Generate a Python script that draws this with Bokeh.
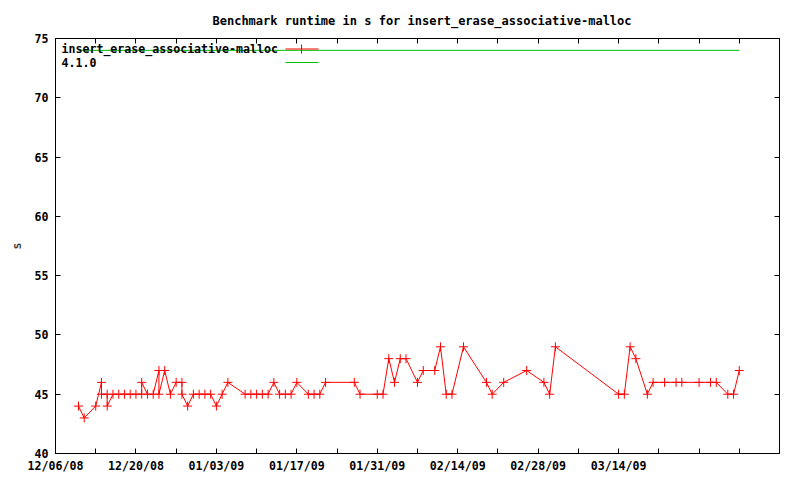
import pandas as pd
from bokeh.plotting import figure
from bokeh.models import (FixedTicker, DatetimeTickFormatter, LinearAxis, DatetimeAxis,
                          Range1d, Label, BoxAnnotation, ColumnDataSource)
from bokeh.embed import file_html
from bokeh.resources import INLINE

# ---- data ----
start_date = "2008-12-06"
end_date = "2009-04-11"
# days after 12/06/08 of each benchmark run, and its runtime (s)
run_day = [4, 5, 7, 8, 8, 9, 9, 10, 11, 12, 13, 14, 15, 15, 16, 17, 18, 18, 19, 20,
           21, 22, 22, 23, 24, 25, 26, 27, 28, 29, 30, 33, 34, 35, 36, 37, 38, 39, 40, 41,
           42, 44, 45, 46, 47, 52, 53, 56, 57, 58, 59, 60, 61, 63, 64, 66, 67, 68, 69, 71,
           75, 76, 78, 82, 85, 86, 87, 98, 99, 100, 101, 103, 104, 106, 108, 109, 112, 114, 115, 117,
           118, 119]
runtime_s = [44, 43, 44, 46, 45, 45, 44, 45, 45, 45, 45, 45, 45, 46, 45, 45, 47, 45, 47, 45,
             46, 46, 45, 44, 45, 45, 45, 45, 44, 45, 46, 45, 45, 45, 45, 45, 46, 45, 45, 45,
             46, 45, 45, 45, 46, 46, 45, 45, 45, 48, 46, 48, 48, 46, 47, 47, 49, 45, 45, 49,
             46, 45, 46, 47, 46, 45, 49, 45, 45, 49, 48, 45, 46, 46, 46, 46, 46, 46, 46, 45,
             45, 47]
# reference series "4.1.0"
ref_day = [4, 119]
ref_runtime_s = [74, 74]

series_name = "insert_erase_associative-malloc"
ref_name = "4.1.0"
title_text = "Benchmark runtime in s for insert_erase_associative-malloc"

x_tick_dates = ["2008-12-06", "2008-12-20", "2009-01-03", "2009-01-17", "2009-01-31",
                "2009-02-14", "2009-02-28", "2009-03-14"]
x_minor_dates = ["2008-12-13", "2008-12-27", "2009-01-10", "2009-01-24", "2009-02-07",
                 "2009-02-21", "2009-03-07", "2009-03-21", "2009-03-28", "2009-04-04",
                 "2009-04-11"]
y_ticks = [40, 45, 50, 55, 60, 65, 70, 75]

# ---- build ----
t0 = pd.Timestamp(start_date)
dates = [t0 + pd.Timedelta(days=d) for d in run_day]
ref_dates = [t0 + pd.Timedelta(days=d) for d in ref_day]
src = ColumnDataSource(dict(x=dates, y=runtime_s))
ref_src = ColumnDataSource(dict(x=ref_dates, y=ref_runtime_s))

def ms(d):
    return int(pd.Timestamp(d).value // 10**6)

FONT = "DejaVu Sans Mono"
FS = "11.6px"

p = figure(width=784, height=476, output_backend="svg", toolbar_location=None,
           x_axis_type="datetime",
           x_range=Range1d(pd.Timestamp(start_date), pd.Timestamp(end_date)),
           y_range=Range1d(40, 75),
           min_border_left=55, min_border_right=5, min_border_top=38, min_border_bottom=23)
p.background_fill_color = "white"
p.border_fill_color = "white"
p.outline_line_color = "black"
p.outline_line_width = 1
p.xgrid.visible = False
p.ygrid.visible = False

p.title.text = title_text
p.title.align = "left"
p.title.offset = 157
p.title.standoff = 21
p.title.text_font = FONT
p.title.text_font_size = "12px"
p.title.text_font_style = "bold"
p.title.text_color = "black"

xt = FixedTicker(ticks=[ms(d) for d in x_tick_dates], minor_ticks=[ms(d) for d in x_minor_dates])
fmt = "%m/%d/%y"
xf = DatetimeTickFormatter(milliseconds=fmt, seconds=fmt, minsec=fmt, minutes=fmt, hourmin=fmt,
                           hours=fmt, days=fmt, months=fmt, years=fmt)
yt = FixedTicker(ticks=y_ticks, minor_ticks=[])

def style_axis(ax, labels=True):
    ax.axis_line_color = "black"
    ax.major_tick_in = 5
    ax.major_tick_out = 0
    ax.minor_tick_in = 5
    ax.minor_tick_out = 0
    ax.major_tick_line_color = "black"
    ax.minor_tick_line_color = "black"
    ax.major_label_text_font = FONT
    ax.major_label_text_font_style = "bold"
    ax.major_label_text_color = "black"
    if labels:
        ax.major_label_text_font_size = FS
    else:
        ax.major_label_text_font_size = "1px"
        ax.major_label_text_color = None
        ax.major_label_standoff = 0

xa = p.xaxis[0]
xa.ticker = xt
xa.formatter = xf
style_axis(xa)
xa.major_label_standoff = 5

ya = p.yaxis[0]
ya.ticker = yt
style_axis(ya)
ya.minor_tick_line_color = None
ya.major_label_standoff = 7
ya.axis_label = "s"
ya.axis_label_text_font = FONT
ya.axis_label_text_font_size = FS
ya.axis_label_text_font_style = "bold"
ya.axis_label_standoff = 8

ra = LinearAxis(ticker=yt)
style_axis(ra, labels=False)
ra.minor_tick_line_color = None
p.add_layout(ra, "right")

ta = DatetimeAxis(ticker=xt, formatter=xf)
style_axis(ta, labels=False)
p.add_layout(ta, "above")

# data
p.line("x", "y", source=ref_src, line_color="#00c000", line_width=1)
p.line("x", "y", source=src, line_color="#ff0000", line_width=1)
p.scatter("x", "y", source=src, marker="cross", size=9, line_color="#ff0000", line_width=1)

# legend (gnuplot style: text left, sample right); screen units are frame-relative
leg_rows = [(series_name, "#ff0000", True), (ref_name, "#00c000", False)]
for i, (name, col, mark) in enumerate(leg_rows):
    yy = 404.5 - i * 13.5
    p.add_layout(Label(x=6, y=yy, x_units="screen", y_units="screen", text=name,
                       text_font=FONT, text_font_size=FS, text_font_style="bold",
                       text_color="black", text_baseline="middle", text_align="left"))
    p.add_layout(BoxAnnotation(left=230, right=263, bottom=yy - 0.5, top=yy + 0.5,
                               left_units="screen", right_units="screen",
                               bottom_units="screen", top_units="screen",
                               fill_color=col, fill_alpha=1, line_color=None))
    if mark:
        p.add_layout(BoxAnnotation(left=245.5, right=246.5, bottom=yy - 4.5, top=yy + 4.5,
                                   left_units="screen", right_units="screen",
                                   bottom_units="screen", top_units="screen",
                                   fill_color=col, fill_alpha=1, line_color=None))

open("out.html", "w").write(file_html(p, INLINE))
